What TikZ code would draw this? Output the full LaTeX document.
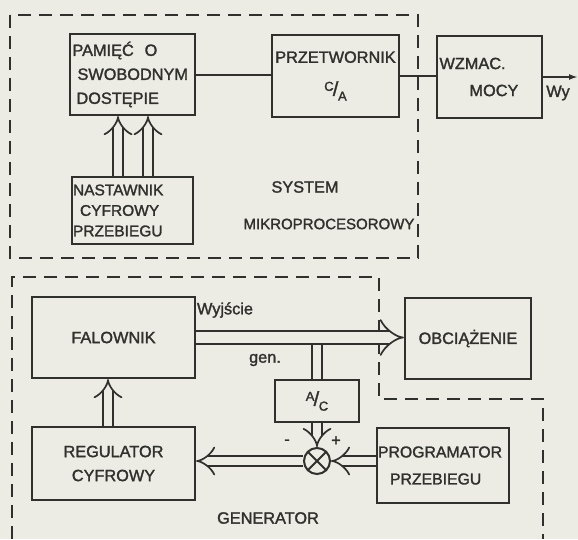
\documentclass[tikz,border=0pt]{standalone}
\usepackage{fontspec}
\setmainfont[FakeBold=1.6]{Liberation Sans}
\usetikzlibrary{arrows.meta}
\definecolor{paper}{RGB}{236,236,228}
\definecolor{ink}{RGB}{48,48,44}
\newcommand{\slfrac}[2]{\raisebox{0.3em}{\fontsize{13}{13}\selectfont #1}\kern-0.05em{\fontsize{20}{20}\selectfont/}\kern-0.02em\raisebox{-0.3em}{\fontsize{13}{13}\selectfont #2}}

\begin{document}
\begin{tikzpicture}[
    x=1pt, y=-1pt,
    every node/.style={font=\fontsize{16.3}{24}\selectfont, text=ink},
    blk/.style={draw=ink, line width=2.2pt, inner sep=1.5pt},
    frame/.style={draw=ink, line width=1.6pt, dash pattern=on 13pt off 8pt},
    wire/.style={draw=ink, line width=2pt},
    bus/.style={draw=ink, line width=1.7pt, double=paper, double distance=#1, -{Implies}},
    bus/.default=8.5pt,
    sumpt/.style={circle, draw=ink, line width=2pt, minimum size=26pt, inner sep=0pt,
      path picture={\draw[ink, line width=2pt]
        (path picture bounding box.south west) -- (path picture bounding box.north east)
        (path picture bounding box.north west) -- (path picture bounding box.south east);}},
    tag/.style={inner sep=0pt},
  ]

  \fill[paper] (0,0) rectangle (578,539);
  \useasboundingbox (0,0) rectangle (578,539);

  %% microprocessor system
  \draw[frame] (10,15) rectangle (418,258);
  \node[blk, minimum width=125pt, minimum height=81pt, text width=120pt, inner sep=1pt, align=left]
    (pam) at (132.5,74.5) {PAMIĘĆ\ \ O\\\hspace*{5pt}SWOBODNYM\\\hspace*{4pt}DOSTĘPIE};
  \node[blk, minimum width=127pt, minimum height=82pt, align=center,
    font=\fontsize{16.3}{33}\selectfont]
    (ca) at (335.5,76) {PRZETWORNIK\\\slfrac{C}{A}};
  \node[blk, minimum width=105pt, minimum height=82pt, text width=100pt, inner sep=1pt,
    align=left, font=\fontsize{16.3}{27}\selectfont]
    (wzm) at (489.5,77) {WZMAC.\\\hspace*{30pt}MOCY};
  \node[blk, minimum width=121pt, minimum height=67pt, text width=119pt, inner sep=1pt,
    align=left, font=\fontsize{15.5}{20.5}\selectfont]
    (nas) at (132.5,210.5) {NASTAWNIK\\\hspace*{7pt}CYFROWY\\PRZEBIEGU};
  \node[tag] (sys) at (305,187) {SYSTEM};
  \node[tag, font=\fontsize{15}{18}\selectfont] (mikro) at (329,224) {MIKROPROCESOROWY};

  \draw[wire] (pam.east) -- (pam.east -| ca.west);
  \draw[wire] (ca.east) -- (ca.east -| wzm.west);
  \coordinate (wyend) at (578,77);
  \draw[wire, -{Latex[length=9pt, width=6pt]}] (wzm.east) -- (wyend);
  \node[tag] (wy) at (558,93) {Wy};

  \draw[bus] ([xshift=-14.5pt]nas.north) -- ([xshift=-14.5pt]nas.north |- pam.south);
  \draw[bus] ([xshift=15.5pt]nas.north) -- ([xshift=15.5pt]nas.north |- pam.south);

  %% generator
  \draw[frame] (12,539) -- (12,277) -- (379,277) -- (379,399) -- (543,399) -- (543,539);
  \node[blk, minimum width=163pt, minimum height=81pt] (fal) at (113.5,337.5) {FALOWNIK};
  \node[blk, minimum width=126pt, minimum height=81pt] (obc) at (468,338.5) {OBCIĄŻENIE};
  \node[blk, minimum width=84pt, minimum height=42pt] (ac) at (317,401) {\slfrac{A}{C}};
  \node[sumpt] (sum) at (317,461) {};
  \node[blk, minimum width=163pt, minimum height=73pt, align=center]
    (reg) at (113.5,463.5) {REGULATOR\\CYFROWY};
  \node[blk, minimum width=132pt, minimum height=75pt, text width=130pt, inner sep=1pt,
    align=left, font=\fontsize{15.8}{27}\selectfont]
    (prg) at (443,465.5) {PROGRAMATOR\\\hspace*{12pt}PRZEBIEGU};

  \node[tag] (wyj) at (225,310) {Wyjście};
  \node[tag] (gen) at (265,360) {gen.};
  \node[tag] (minus) at (287,442) {-};
  \node[tag] (plus) at (336,441) {+};
  \node[tag] (genr) at (268,518) {GENERATOR};

  \draw[bus=11.5pt] (fal.east) -- (fal.east -| obc.west);
  \draw[bus, -] ([yshift=-7.5pt]fal.east -| ac.north) -- (ac.north);
  \draw[bus] (ac.south) -- (sum.north);
  \draw[bus] (sum.east -| prg.west) -- (sum.east);
  \draw[bus] (sum.west) -- (sum.west -| reg.east);
  \draw[bus] ([xshift=-5.5pt]reg.north) -- ([xshift=-5.5pt]reg.north |- fal.south);

\end{tikzpicture}
\end{document}
